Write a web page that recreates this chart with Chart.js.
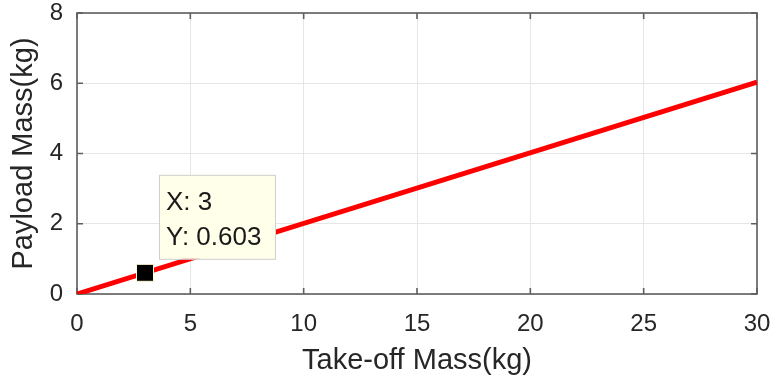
<!DOCTYPE html>
<html>
<head>
<meta charset="utf-8">
<script src="https://cdn.jsdelivr.net/npm/chart.js@4.4.1/dist/chart.umd.min.js"></script>
<style>
html, body { margin: 0; background: #fff; }
#wrap { width: 772px; height: 383px; }
</style>
</head>
<body>
<div id="wrap"><canvas id="chart1"></canvas></div>
<script>
// payload vs take-off mass
var massX = [0, 30];
var payloadY = [0, 6.03];
var tipX = [3];
var tipY = [0.603];
var xTicks = [0, 5, 10, 15, 20, 25, 30];
var yTicks = [0, 2, 4, 6, 8];
var tipLines = ['X: ' + tipX[0], 'Y: ' + tipY[0]];

var FONT = "'Liberation Sans', Arial, sans-serif";
var frameColor = '#5e5e5e';

// MATLAB style box with inward ticks
var boxPlugin = {
    id: 'box',
    beforeDatasetsDraw: function(chart) {
        var a = chart.chartArea, c = chart.ctx;
        var xs = chart.scales.x, ys = chart.scales.y;
        c.save();
        c.strokeStyle = frameColor;
        c.lineWidth = 1.6;
        c.strokeRect(a.left, a.top, a.right - a.left, a.bottom - a.top);
        c.beginPath();
        xTicks.forEach(function(v) {
            var px = xs.getPixelForValue(v);
            c.moveTo(px, a.bottom); c.lineTo(px, a.bottom - 6);
            c.moveTo(px, a.top); c.lineTo(px, a.top + 6);
        });
        yTicks.forEach(function(v) {
            var py = ys.getPixelForValue(v);
            c.moveTo(a.left, py); c.lineTo(a.left + 6, py);
            c.moveTo(a.right, py); c.lineTo(a.right - 6, py);
        });
        c.stroke();
        c.restore();
    },
    afterDatasetsDraw: function(chart) {
        // data tip label
        var c = chart.ctx;
        var px = chart.scales.x.getPixelForValue(tipX[0]);
        var py = chart.scales.y.getPixelForValue(tipY[0]);
        var bx = px + 14, by = py - 98, bw = 116, bh = 84;
        c.save();
        c.fillStyle = '#ffffea';
        c.fillRect(bx, by, bw, bh);
        c.strokeStyle = '#cfcfcf';
        c.lineWidth = 1;
        c.strokeRect(bx + 0.5, by + 0.5, bw, bh);
        c.fillStyle = '#1a1a1a';
        c.font = '26px ' + FONT;
        c.textBaseline = 'middle';
        c.fillText(tipLines[0], bx + 7, by + 28);
        c.fillText(tipLines[1], bx + 7, by + 63);
        c.restore();
    }
};

var ctx = document.getElementById('chart1').getContext('2d');
var chart1 = new Chart(ctx, {
    type: 'scatter',
    data: {
        datasets: [{
            label: 'payload',
            data: massX.map(function(x, i) { return {x: x, y: payloadY[i]}; }),
            showLine: true,
            borderColor: '#ff0000',
            borderWidth: 5,
            pointRadius: 0,
            order: 2
        }, {
            label: 'tip',
            data: tipX.map(function(x, i) { return {x: x, y: tipY[i]}; }),
            pointStyle: 'rect',
            pointRadius: 12,
            backgroundColor: '#000000',
            borderColor: '#fffbd0',
            borderWidth: 1,
            order: 1
        }]
    },
    options: {
        responsive: true,
        maintainAspectRatio: false,
        animation: false,
        events: [],
        layout: { padding: { left: 0, top: 13, right: 15, bottom: 0 } },
        plugins: { legend: { display: false }, tooltip: { enabled: false } },
        scales: {
            x: {
                type: 'linear', min: 0, max: 30,
                afterBuildTicks: function(s) { s.ticks = xTicks.map(function(v) { return {value: v}; }); },
                afterFit: function(s) { s.height = 89; s.paddingLeft = 0; s.paddingRight = 0; },
                grid: { color: '#e6e6e6', drawTicks: false },
                border: { display: false },
                ticks: { padding: 16, color: '#262626', font: { family: FONT, size: 24 }, maxRotation: 0 },
                title: { display: true, text: 'Take-off Mass(kg)', color: '#262626',
                         font: { family: FONT, size: 29 }, padding: { top: 0, bottom: 5 } }
            },
            y: {
                type: 'linear', min: 0, max: 8,
                afterBuildTicks: function(s) { s.ticks = yTicks.map(function(v) { return {value: v}; }); },
                afterFit: function(s) { s.width = 77; s.paddingTop = 0; s.paddingBottom = 0; },
                grid: { color: '#e6e6e6', drawTicks: false },
                border: { display: false },
                ticks: { padding: 14, color: '#262626', font: { family: FONT, size: 24 } },
                title: { display: true, text: 'Payload Mass(kg)', color: '#262626',
                         font: { family: FONT, size: 29 }, padding: { top: 7, bottom: 0 } }
            }
        }
    },
    plugins: [boxPlugin]
});
</script>
</body>
</html>
